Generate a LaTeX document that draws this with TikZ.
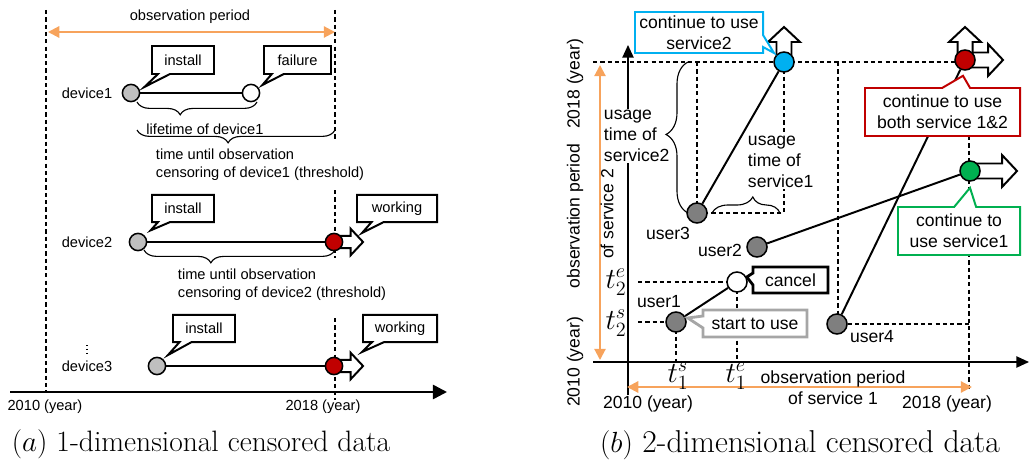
\documentclass[tikz,border=0pt]{standalone}
\usepackage{fontspec}
\newfontfamily\arialfont{Liberation Sans}
\usepackage{tikz}
\usetikzlibrary{positioning}
\usetikzlibrary{calc}
\usetikzlibrary{shapes.callouts}
\usetikzlibrary{decorations.pathreplacing}
\usetikzlibrary{arrows.meta}

\definecolor{obsorange}{RGB}{247,163,92}
\definecolor{darkred}{RGB}{192,0,0}
\definecolor{skyblue}{RGB}{0,176,240}
\definecolor{okgreen}{RGB}{0,176,80}
\definecolor{lightgrey}{RGB}{191,191,191}
\definecolor{midgrey}{RGB}{127,127,127}
\definecolor{boxgrey}{RGB}{166,166,166}

\tikzset{
  dotA/.style={circle, draw, line width=1.1pt, inner sep=0pt, minimum size=0.43cm},
  dotB/.style={circle, draw, line width=1.1pt, inner sep=0pt, minimum size=0.5cm},
  life/.style={line width=1.4pt},
  cens/.style={line width=0.9pt, dash pattern=on 3pt off 2.2pt},
  say/.style={rectangle callout, draw, fill=white, line width=1.4pt, callout pointer width=0.3cm, inner sep=2pt},
  obs/.style={obsorange, line width=1.5pt, {Triangle[length=8pt,width=8pt]}-{Triangle[length=8pt,width=8pt]}},
  timeaxis/.style={line width=1.1pt, -{Triangle[length=9pt,width=8pt]}},
  spanbrace/.style={decorate, decoration={brace, amplitude=0.32cm}, line width=0.8pt},
  tmath/.style={font=\rmfamily\fontsize{19.6}{22}\selectfont, inner sep=1pt},
  pics/blockarrow/.style={code={
    \draw[line width=1.4pt, fill=white] (0,-7.5) -- (#1-15,-7.5) -- (#1-15,-16) -- (#1,0)
      -- (#1-15,16) -- (#1-15,7.5) -- (0,7.5) -- cycle;
  }}
}

\begin{document}
\begin{tikzpicture}[x=0.025cm, y=-0.025cm, font=\arialfont\fontsize{10.4}{12.8}\selectfont]
\useasboundingbox (0,0) rectangle (1029,459);

%% (a) 1-dimensional
\draw[cens] (46,10) -- (46,392);
\draw[cens] (335,10) -- (335,140);
\draw[cens] (335,190) -- (335,258);
\draw[cens] (335,318) -- (335,400);
\draw[obs] (48,32) -- (335,32);
\node (obsA) at (190,17) {observation period};

% device1
\node (dev1) at (87,93) {device1};
\node[dotA, fill=lightgrey] (d1s) at (131,93) {};
\node[dotA, fill=white] (d1e) at (251,93) {};
\draw[life] (d1s) -- (d1e);
\draw[spanbrace, decoration={mirror, aspect=0.36}] (137,102) -- (257,102);
\node (life1) at (205,129) {lifetime of device1};
\draw[spanbrace, decoration={mirror, aspect=0.46}] (137,130) -- (335,130);
\node[anchor=west, align=left] (thr1) at (151,165) {time until observation\\censoring of device1 (threshold)};
\node[say, minimum width=1.55cm, minimum height=0.7cm, callout absolute pointer={($(d1s.east)+(4,-6)$)}] (ins1) at (183,60) {install};
\node[say, minimum width=1.675cm, minimum height=0.7cm, callout absolute pointer={($(d1e.east)+(2,-8)$)}] (fail1) at (297.5,60) {failure};

% device2
\node (dev2) at (87,242) {device2};
\pic[scale=0.83] at (334,242) {blockarrow=35};
\node[dotA, fill=lightgrey] (d2s) at (138,242) {};
\node[dotA, fill=darkred] (d2e) at (334,242) {};
\draw[life] (d2s) -- (d2e);
\draw[spanbrace, decoration={mirror, aspect=0.35}] (144,250) -- (335,250);
\node[anchor=west, align=left] (thr2) at (173,285) {time until observation\\censoring of device2 (threshold)};
\node[say, minimum width=1.55cm, minimum height=0.68cm, callout absolute pointer={($(d2s.north east)+(6,-5)$)}] (ins2) at (183,208.5) {install};
\node[say, minimum width=2cm, minimum height=0.68cm, callout absolute pointer={($(d2e)+(28,-9)$)}] (work2) at (397,208.5) {working};

% device3
\draw[dotted, line width=0.8pt] (87,345) -- (87,354);
\node (dev3) at (87,366) {device3};
\pic[scale=0.83] at (334,366) {blockarrow=35};
\node[dotA, fill=lightgrey] (d3s) at (157,366) {};
\node[dotA, fill=darkred] (d3e) at (334,366) {};
\draw[life] (d3s) -- (d3e);
\node[say, minimum width=1.55cm, minimum height=0.68cm, callout absolute pointer={($(d3s)+(11,-11)$)}] (ins3) at (204,328.5) {install};
\node[say, minimum width=1.85cm, minimum height=0.68cm, callout absolute pointer={($(d3e)+(28,-14)$)}] (work3) at (400,328.5) {working};

\draw[timeaxis, line width=1.8pt, -{Triangle[length=10pt,width=10pt]}] (10,392) -- (447,392);
\node (y2010a) at (45,407) {2010 (year)};
\node (y2018a) at (323,407) {2018 (year)};
\node[font=\rmfamily\fontsize{21}{24}\selectfont] (capA) at (201,444) {$(a)$ 1-dimensional censored data};

%% (b) 2-dimensional
\begin{scope}[font=\arialfont\fontsize{12.5}{15}\selectfont]
\draw[cens] (593,62) -- (965,62);
\draw[cens] (697,62) -- (697,213);
\draw[cens] (784,62) -- (784,213) -- (697,213);
\draw[cens] (838,62) -- (838,324);
\draw[cens] (969,136) -- (969,390);
\draw[cens] (638,282) -- (737,282);
\draw[cens] (638,322) -- (676,322);
\draw[cens] (676,322) -- (676,362);
\draw[cens] (737,282) -- (737,362);

\draw[timeaxis] (628,395) -- (628,45);
\draw[timeaxis] (593,362) -- (1029,362);
\draw[obs] (600,65) -- (600,360);
\draw[obs] (627,387) -- (972,387);
\node[rotate=90] (y2018v) at (575,84) {2018 (year)};
\node[rotate=90] (obs2a) at (575,216) {observation period};
\node[rotate=90] (obs2b) at (607,214) {of service 2};
\node[rotate=90] (y2010v) at (575,362) {2010 (year)};
\node[align=center] (obs1) at (833,388) {observation period\\of service 1};
\node (y2010h) at (648,404) {2010 (year)};
\node (y2018h) at (947,404) {2018 (year)};

\pic[rotate=90] at (784,62) {blockarrow=35};
\pic at (965,60) {blockarrow=38};
\pic[rotate=90] at (965,60) {blockarrow=33};
\pic at (970,171) {blockarrow=47};

\node[dotB, fill=midgrey] (u1) at (676,322) {};
\node[dotB, fill=white] (u1e) at (737,282) {};
\node[dotB, fill=midgrey] (u2) at (757,247) {};
\node[dotB, fill=midgrey] (u3) at (697,213) {};
\node[dotB, fill=midgrey] (u4) at (837,324) {};
\node[dotB, fill=skyblue] (u3e) at (784,62) {};
\node[dotB, fill=darkred] (u4e) at (965,60) {};
\node[dotB, fill=okgreen] (u2e) at (970,171) {};
\draw[life] (u1) -- (u1e);
\draw[life] (u2) -- (u2e);
\draw[life] (u3) -- (u3e);
\draw[life] (u4) -- (u4e);
\draw[cens] (u4) -- (969,324);

\node (lu1) at (659,302) {user1};
\node (lu2) at (720,250) {user2};
\node (lu3) at (668,233) {user3};
\node (lu4) at (872,337) {user4};
\node[tmath] (t2e) at (616,282) {$t_2^e$};
\node[tmath] (t2s) at (616,323) {$t_2^s$};
\node[tmath] (t1s) at (678,376) {$t_1^s$};
\node[tmath] (t1e) at (736,376) {$t_1^e$};

\node[fill=white, inner sep=0.5pt, anchor=west, align=left] (use2) at (603,136) {usage\\time of\\service2};
\node[fill=white, inner sep=0.5pt, anchor=west, align=left] (use1) at (747,162) {usage\\time of\\service1};
\draw[spanbrace, decoration={amplitude=0.55cm, aspect=0.52}] (688,213) -- (688,62);
\draw[spanbrace, decoration={amplitude=0.4cm, aspect=0.6}] (712,213) -- (780,213);

\node[say, draw=skyblue, align=center, minimum width=3.2cm, minimum height=1.025cm, callout absolute pointer={($(u3e)+(-10,-9)$)}] (keep2) at (699,32.5) {continue to use\\service2};
\node[say, draw=darkred, align=center, minimum width=3.875cm, minimum height=1.2cm, callout pointer width=0.7cm, callout absolute pointer={($(u4e.south)+(-2,5)$)}] (keep12) at (942.5,112) {continue to use\\both service 1\&2};
\node[say, draw=okgreen, align=center, minimum width=3.05cm, minimum height=1.2cm, callout pointer width=0.55cm, callout absolute pointer={($(u2e.south)+(0,6)$)}] (keep1) at (959,231) {continue to\\use service1};
\node[say, line width=2pt, minimum width=1.875cm, minimum height=0.65cm, callout absolute pointer={($(u1e.east)+(-1,-5)$)}] (cancel) at (790.5,280) {cancel};
\node[say, draw=boxgrey, line width=2pt, minimum width=2.6cm, minimum height=0.675cm, callout absolute pointer={($(u1.east)+(1,-4)$)}] (start) at (755,323.5) {start to use};

\node[font=\rmfamily\fontsize{22.5}{26}\selectfont] (capB) at (800,445) {$(b)$ 2-dimensional censored data};
\end{scope}
\end{tikzpicture}
\end{document}
